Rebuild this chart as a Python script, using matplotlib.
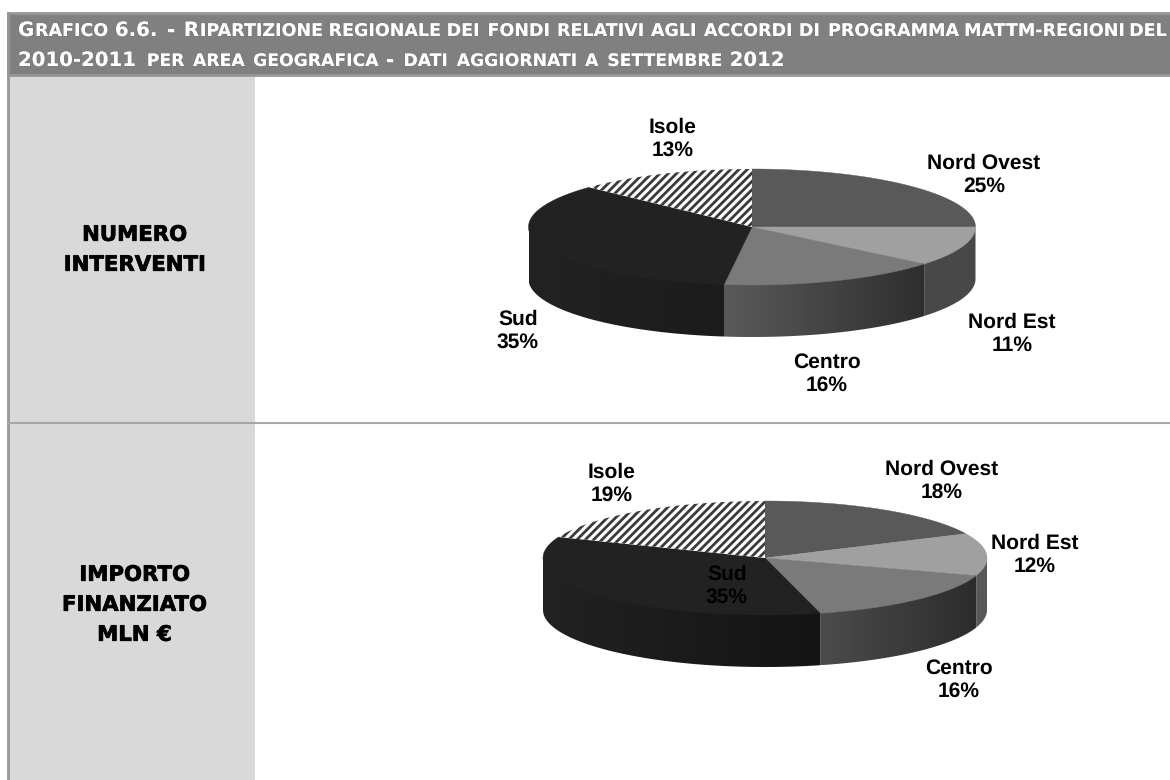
import numpy as np
import matplotlib
matplotlib.use("Agg")
import matplotlib.pyplot as plt
from matplotlib.patches import Polygon, Rectangle
import matplotlib.patheffects as pe

categories = ["Nord Ovest", "Nord Est", "Centro", "Sud", "Isole"]
interventi = [25, 11, 16, 35, 13]
importo = [18, 12, 16, 35, 19]
title_lines = [
    "Grafico 6.6. - Ripartizione regionale dei fondi relativi agli accordi di programma mattm-regioni del",
    "2010-2011 per area geografica - dati aggiornati a settembre 2012",
]
row_labels = [["NUMERO", "INTERVENTI"], ["IMPORTO", "FINANZIATO", "MLN €"]]

top_colors = ["#595959", "#a0a0a0", "#7a7a7a", "#222222", "white"]
wall_1 = [("#555555", "#555555"), ("#484848", "#484848"), ("#5a5a5a", "#2e2e2e"), ("#222222", "#1c1c1c"), ("#222222", "#222222")]
wall_2 = [("#555555", "#555555"), ("#585858", "#585858"), ("#4c4c4c", "#2c2c2c"), ("#222222", "#141414"), ("#222222", "#222222")]

plt.rcParams["hatch.linewidth"] = 2.0
plt.rcParams["hatch.color"] = "#3a3a3a"
plt.rcParams["text.hinting"] = "none"
plt.rcParams["text.hinting_factor"] = 1
fig = plt.figure(figsize=(11.7, 7.8), dpi=100, facecolor="white")
ax = fig.add_axes([0, 0, 1, 1])
ax.axis("off")


def pie3d(values, walls, cx, cy, rx, ry, depth):
    edges = np.radians(np.cumsum([0] + list(values)) * 3.6)
    for i in range(len(values)):
        a0, a1 = edges[i], edges[i + 1]
        # side wall: only the front half of the ellipse is visible
        f0, f1 = max(a0, np.pi / 2), min(a1, 3 * np.pi / 2)
        if f1 > f0:
            t = np.linspace(f0, f1, 80)
            xs, ys = cx + rx * np.sin(t), cy - ry * np.cos(t)
            pts = np.r_[np.c_[xs, ys - 2], np.c_[xs, ys + depth][::-1]]
            poly = Polygon(pts, closed=True, fc="none", ec="none", zorder=2)
            ax.add_patch(poly)
            lo, hi = matplotlib.colors.to_rgb(walls[i][0]), matplotlib.colors.to_rgb(walls[i][1])
            grad = np.linspace(lo, hi, 128)[None, :, :]
            im = ax.imshow(grad, extent=(xs.min(), xs.max(), ys.max() + depth, ys.min() - 2),
                           aspect="auto", interpolation="bilinear", zorder=2)
            im.set_clip_path(poly)
        t = np.linspace(a0, a1, 120)
        pts = np.r_[[[cx, cy]], np.c_[cx + rx * np.sin(t), cy - ry * np.cos(t)]]
        if top_colors[i] == "white":
            ax.add_patch(Polygon(pts, closed=True, fc="white", ec="#3a3a3a", lw=0, hatch="////", zorder=3))
        else:
            ax.add_patch(Polygon(pts, closed=True, fc=top_colors[i], ec=top_colors[i], lw=0.3, zorder=3))


# layout
ax.add_patch(Rectangle((8, 76), 247, 704, fc="#d9d9d9", ec="none", zorder=1))
ax.add_patch(Rectangle((8, 13), 1170, 62, fc="#808080", ec="#969696", lw=2, zorder=1))
ax.plot([8, 8], [13, 780], color="#969696", lw=2, zorder=1.5)
ax.plot([8, 1170], [423, 423], color="#a6a6a6", lw=1.5, zorder=1.5)

pie3d(interventi, wall_1, 752, 227, 223.5, 58, 52)
pie3d(importo, wall_2, 765, 558, 222, 57, 52)

label_font = dict(family="Liberation Sans", weight="bold", fontsize=15.0, color="black",
                  ha="center", va="center", linespacing=1.22, zorder=5)
pos_1 = [(984, 175), (1012, 334), (827, 374), (518, 331), (673, 139)]
pos_2 = [(942, 481), (1035, 555), (959, 680), (727, 586), (612, 484)]
for vals, pos in ((interventi, pos_1), (importo, pos_2)):
    for c, v, (x, y) in zip(categories, vals, pos):
        ax.text(x, y, f"{c}\n{v}%", **label_font)

heavy = [pe.withStroke(linewidth=0.5, foreground="black")]
for lines, ys in zip(row_labels, ([235, 265], [575, 605, 635])):
    for s, y in zip(lines, ys):
        ax.text(134, y, s, family="DejaVu Sans", weight="bold", fontsize=15.3,
                color="black", ha="center", va="center", zorder=5, path_effects=heavy)

ax.set_xlim(0, 1170)
ax.set_ylim(780, 0)

# small-caps header drawn run by run
renderer = fig.canvas.get_renderer()
BIG = 14.2
shadow = [pe.withStroke(linewidth=0.6, foreground=(0.35, 0.35, 0.35, 0.4))]


def runs_of(word):
    runs = []
    for ch in word:
        big = not ch.islower() and not (ch == "-" and len(word) > 1 and not word[0].isdigit())
        if runs and runs[-1][1] == big:
            runs[-1][0] += ch
        else:
            runs.append([ch, big])
    return runs


def small_caps(line, x0, base, small, gap):
    x = x0
    for word in line.split(" "):
        for s, big in runs_of(word):
            t = ax.text(x, base, s.upper(), family="DejaVu Sans", weight="bold",
                        fontsize=BIG if big else small, color="white", ha="left",
                        va="baseline", zorder=6, path_effects=shadow)
            x += t.get_window_extent(renderer).width + 0.6
        x += gap


small_caps(title_lines[0], 18, 36, 12.6, 8.2)
small_caps(title_lines[1], 18, 66, 12.4, 8.5)

fig.savefig("out.png", dpi=100)
